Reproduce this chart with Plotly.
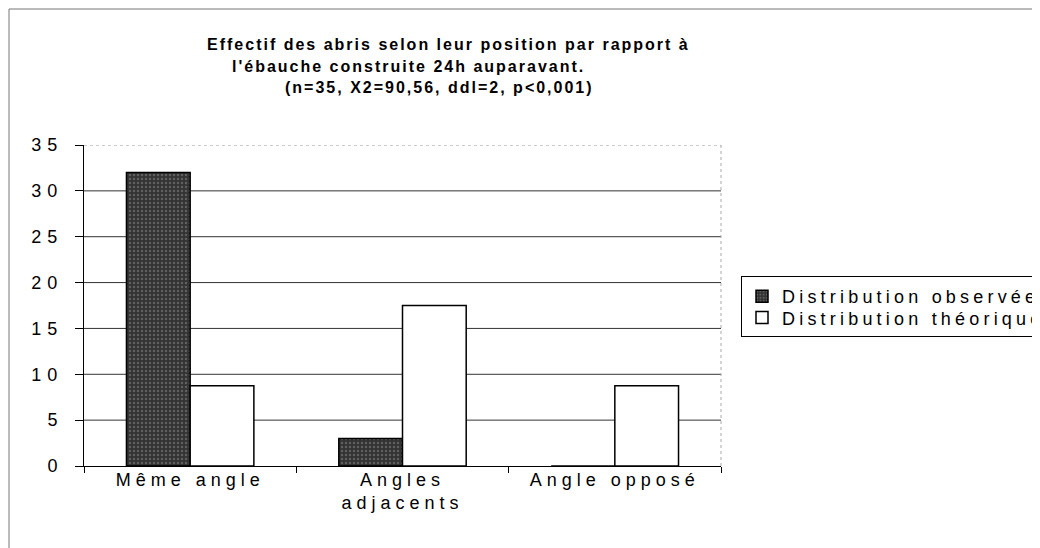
import plotly.graph_objects as go

categories = ["Même angle", "Angles<br>adjacents", "Angle opposé"]
observed = [32, 3, 0]
theoretical = [8.75, 17.5, 8.75]
y_ticks = [0, 5, 10, 15, 20, 25, 30, 35]
series_names = ["Distribution observée", "Distribution théorique"]
title_lines = [
    "Effectif des abris selon leur position par rapport à",
    "l'ébauche construite 24h auparavant.",
    "(n=35, X2=90,56, ddl=2, p<0,001)",
]

# page body has an 8px margin; figure occupies window 8..1040 x 8..548
OFF = 8
W, H = 1040 - OFF, 548 - OFF
L, R, T, B = 84 - OFF, 721 - OFF, 145 - OFF, 466 - OFF

def px(x):
    return (x - OFF - L) / (R - L)

def py(y):
    return (B - (y - OFF)) / (B - T)

FONT = "Liberation Sans"

fig = go.Figure()
fig.add_trace(go.Bar(
    x=categories, y=observed, name=series_names[0],
    marker=dict(color="#333333", line=dict(color="black", width=1.5),
                pattern=dict(shape=".", fgcolor="#8a8a8a", size=4, solidity=0.3)),
))
fig.add_trace(go.Bar(
    x=categories, y=theoretical, name=series_names[1],
    marker=dict(color="white", line=dict(color="black", width=1.5)),
))

annotations = []
title_pos = [(205, 45), (230, 66), (283, 87)]
for txt, (x0, y0) in zip(title_lines, title_pos):
    annotations.append(dict(
        text=txt, xref="paper", yref="paper", x=px(x0), y=py(y0),
        xanchor="left", yanchor="middle", align="left", showarrow=False,
        font=dict(family=FONT, size=16, color="black", weight="bold"),
    ))

shapes = [
    dict(type="line", xref="paper", yref="paper", x0=px(9), x1=px(1040), y0=py(9), y1=py(9),
         line=dict(color="#777", width=1)),
    dict(type="line", xref="paper", yref="paper", x0=px(9), x1=px(9), y0=py(9), y1=py(548),
         line=dict(color="#777", width=1)),
    dict(type="line", xref="paper", yref="paper", x0=1, x1=1, y0=0, y1=1,
         line=dict(color="#aaa", width=1, dash="dot")),
]
for v in y_ticks[1:]:
    top = v == y_ticks[-1]
    shapes.append(dict(type="line", xref="paper", yref="y", x0=0, x1=1, y0=v, y1=v,
                       layer="below",
                       line=dict(color="#999" if top else "#333", width=1,
                                 dash="dot" if top else "solid")))

fig.update_layout(
    width=W, height=H,
    margin=dict(l=L, r=W - R, t=T, b=H - B, autoexpand=False),
    paper_bgcolor="white", plot_bgcolor="white",
    barmode="group", bargap=0.4, bargroupgap=0,
    font=dict(family=FONT, size=18, color="black"),
    showlegend=True,
    legend=dict(x=px(741), y=py(276), xanchor="left", yanchor="top",
                bordercolor="black", borderwidth=1, bgcolor="white",
                font=dict(family=FONT, size=18, color="black"),
                tracegroupgap=0, itemwidth=30),
    annotations=annotations,
    shapes=shapes,
    xaxis=dict(type="category", tickson="boundaries", ticks="outside", ticklen=6,
               tickcolor="black", showline=True, linecolor="black", linewidth=1,
               showgrid=False, tickfont=dict(family=FONT, size=18)),
    yaxis=dict(range=[0, 35], tickvals=y_ticks, ticks="outside", ticklen=8,
               tickcolor="black", showline=True, linecolor="black", linewidth=1,
               showgrid=False, zeroline=False,
               tickfont=dict(family=FONT, size=18)),
)

post = """
var gd = document.getElementById('{plot_id}');
function sp(sel, v){ gd.querySelectorAll(sel).forEach(function(e){ e.style.letterSpacing = v; }); }
function mv(sel, dx, dy){ gd.querySelectorAll(sel).forEach(function(e){
  var t = e.getAttribute('transform') || '';
  e.setAttribute('transform', 'translate(' + dx + ',' + dy + ') ' + t);
}); }
sp('.xtick text', '5px');
sp('.ytick text', '6px');
sp('.legendtext', '4.2px');
sp('.annotation-text', '2px');
mv('.ytick text', -8, 0);
mv('.xtick text', 0, -3);
var lg = gd.querySelector('.legend');
if (lg) {
  lg.querySelectorAll('rect.bg').forEach(function(r){ r.setAttribute('width', 420); r.setAttribute('height', 60); });
  lg.querySelectorAll('.scrollbox').forEach(function(s){ s.removeAttribute('clip-path'); });
  var tr = lg.querySelectorAll('.traces');
  var shifts = [1, -4];
  tr.forEach(function(e, i){
    var t = e.getAttribute('transform') || '';
    e.setAttribute('transform', 'translate(0,' + (shifts[i] || 0) + ') ' + t);
  });
}
"""

fig.write_html("out.html", post_script=post)
